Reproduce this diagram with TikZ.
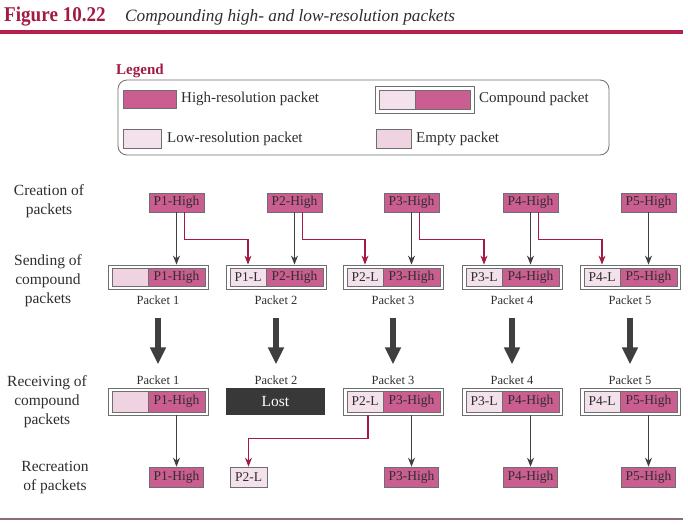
\documentclass[tikz,border=0pt]{standalone}
\usepackage{fontspec}
\usepackage{graphicx}
\setmainfont{Liberation Serif}
\usetikzlibrary{arrows.meta,calc}
\definecolor{hipink}{HTML}{CB5E90}
\definecolor{lopink}{HTML}{F3E1EB}
\definecolor{empink}{HTML}{EFD3E1}
\definecolor{boxgray}{HTML}{6E6E6E}
\definecolor{maroon}{HTML}{A31A42}
\definecolor{rulered}{HTML}{B3214B}
\definecolor{arrowgray}{HTML}{3F3F3F}
\definecolor{lostgray}{HTML}{383838}
\definecolor{captext}{HTML}{2E2E2E}
\begin{document}
\begin{tikzpicture}[x=1pt,y=-1pt,
 pk/.style={draw=boxgray,line width=0.6pt,inner sep=0pt,text=captext,font=\fontsize{13.5}{15}\selectfont},
 hib/.style={pk,fill=hipink},
 lob/.style={pk,fill=lopink},
 emb/.style={pk,fill=empink},
 outerbox/.style={draw=boxgray,line width=0.8pt,fill=white,inner sep=0pt},
 lbl/.style={font=\fontsize{12.5}{14}\selectfont,inner sep=0pt,text=captext},
 side/.style={align=center,font=\fontsize{15.5}{19}\selectfont,inner sep=0pt,text=captext},
 legtext/.style={anchor=west,inner sep=0pt,font=\fontsize{15}{18}\selectfont,text=captext},
 thinarr/.style={draw=arrowgray,line width=1.1pt,-{Stealth[length=9pt,width=7pt]}},
 redarr/.style={draw=maroon,line width=1.1pt,-{Stealth[length=9pt,width=7pt]}},
 fatarr/.style={draw=arrowgray,line width=5.5pt,-{Triangle[width=15pt,length=17pt]}},
]
\useasboundingbox (0,0) rectangle (688,525);

% title
\node[anchor=base west,inner sep=0pt,text=maroon,font=\fontsize{21}{24}\selectfont\bfseries] (ttl) at (4,21) {\scalebox{0.91}[1]{Figure 10.22}};
\node[anchor=base west,inner sep=0pt,text=captext,font=\fontsize{17.3}{20}\selectfont\itshape] (cap) at (125,21) {Compounding high- and low-resolution packets};
\draw[rulered,line width=4pt] (0,32) -- (683,32);
\draw[draw=black!60!maroon!60,line width=1.5pt] (0,519) -- (683,519);

% legend
\node[anchor=base west,inner sep=0pt,text=maroon,font=\fontsize{15}{18}\selectfont\bfseries] (legt) at (116,74) {Legend};
\node[draw=boxgray,line width=0.8pt,rounded corners=9pt,minimum width=491pt,minimum height=75pt,inner sep=0pt] (leg) at (363.5,117.5) {};
\node[hib,minimum width=53pt,minimum height=18pt] (lhi) at (149.5,99) {};
\node[legtext] (lhit) at (181,99) {High-resolution packet};
\node[outerbox,minimum width=99pt,minimum height=27pt] (lco) at (424.5,99.5) {};
\node[lob,minimum width=36pt,minimum height=19pt] (lcol) at (397,99.5) {};
\node[hib,minimum width=55pt,minimum height=19pt] (lcoh) at (442.5,99.5) {};
\node[legtext] (lcot) at (479,99) {Compound packet};
\node[lob,minimum width=38pt,minimum height=19pt] (llo) at (142,138.5) {};
\node[legtext] (llot) at (167,139) {Low-resolution packet};
\node[emb,minimum width=35pt,minimum height=19pt] (lem) at (393.5,138.5) {};
\node[legtext] (lemt) at (416,139) {Empty packet};

% side labels
\node[side] (t1) at (49,201) {Creation of\\packets};
\node[side] (t2) at (48,281) {Sending of\\compound\\packets};
\node[side] (t3) at (47,402) {Receiving of\\compound\\packets};
\node[side] (t4) at (55,478) {Recreation\\of packets};

% creation row
\foreach \i/\L in {1/108,2/226,3/343,4/462,5/580}{
  \node[hib,minimum width=55pt,minimum height=19pt] (cr\i) at (\L+68.5,202.5) {P\i-High};
}

% sending row
\foreach \i/\L/\lt/\lf in {1/108//empink,2/226/P1-L/lopink,3/343/P2-L/lopink,4/462/P3-L/lopink,5/580/P4-L/lopink}{
  \node[outerbox,minimum width=100pt,minimum height=24pt] (s\i) at (\L+50,277) {};
  \node[pk,fill=\lf,minimum width=36pt,minimum height=18pt] (sl\i) at (\L+22,277) {\lt};
  \node[hib,minimum width=57pt,minimum height=18pt] (sh\i) at (\L+68.5,277) {P\i-High};
  \node[lbl] (pa\i) at (\L+50,300) {Packet \i};
  \node[lbl] (pb\i) at (\L+50,380) {Packet \i};
}

% receiving row
\foreach \i/\L/\lt/\lf in {1/108//empink,3/343/P2-L/lopink,4/462/P3-L/lopink,5/580/P4-L/lopink}{
  \node[outerbox,minimum width=100pt,minimum height=27pt] (r\i) at (\L+50,401.5) {};
  \node[pk,fill=\lf,minimum width=36pt,minimum height=21pt] (rl\i) at (\L+22,401.5) {\lt};
  \node[hib,minimum width=57pt,minimum height=21pt] (rh\i) at (\L+68.5,401.5) {P\i-High};
}
\node[fill=lostgray,minimum width=99pt,minimum height=27pt,inner sep=0pt,text=white,font=\fontsize{15.5}{18}\selectfont] (r2) at (275.5,401.5) {Lost};

% recreation row
\foreach \i/\L in {1/108,3/343,4/462,5/580}{
  \node[hib,minimum width=54pt,minimum height=20pt] (rc\i) at (\L+68.5,477) {P\i-High};
}
\node[lob,minimum width=37pt,minimum height=20pt] (rc2) at (248.5,477) {P2-L};

% arrows creation -> sending
\foreach \i in {1,...,5}{
  \draw[thinarr] (cr\i.south) -- (cr\i.south |- s\i.north);
}
\foreach \i/\j in {1/2,2/3,3/4,4/5}{
  \draw[redarr] ([xshift=8pt]cr\i.south) -- ++(0,27) -| (sl\j |- s\j.north);
}

% fat arrows
\foreach \i in {1,...,5}{
  \draw[fatarr] ($(pa\i.south)+(0,13)$) -- ($(pb\i.north)+(0,-11)$);
}

% receiving -> recreation
\foreach \i in {1,3,4,5}{
  \draw[thinarr] (rc\i |- r\i.south) -- (rc\i.north);
}
\draw[redarr] ($(rl3 |- r3.south)+(3,0)$) -- ++(0,23) -| (rc2.north);
\end{tikzpicture}
\end{document}
